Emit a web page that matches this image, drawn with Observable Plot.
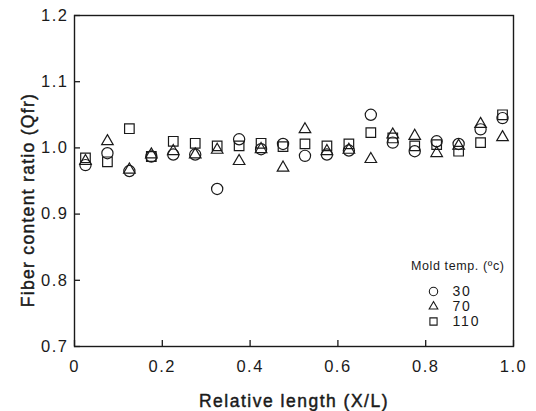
<!DOCTYPE html>
<html>
<head>
<meta charset="utf-8">
<script src="https://cdn.jsdelivr.net/npm/d3@7"></script>
<script src="https://cdn.jsdelivr.net/npm/@observablehq/plot@0.6"></script>
<style>
  html, body { margin: 0; padding: 0; background: #fff; }
  #chart svg { font-family: "Liberation Sans", Arial, Helvetica, sans-serif; }
  #chart svg g[aria-label="x-axis tick label"] text,
  #chart svg g[aria-label="y-axis tick label"] text { letter-spacing: 1.5px; }
  #chart svg .title-x text { letter-spacing: 1.5px; }
  #chart svg .title-y text { letter-spacing: 1.3px; }
  #chart svg .legend-title text { letter-spacing: 0.6px; }
  #chart svg .legend-label text { letter-spacing: 1.8px; }
</style>
</head>
<body>
<div id="chart"></div>
<script>
// Relative length positions (X/L)
const positions = [0.025, 0.075, 0.125, 0.175, 0.225, 0.275, 0.325, 0.375, 0.425, 0.475,
                   0.525, 0.575, 0.625, 0.675, 0.725, 0.775, 0.825, 0.875, 0.925, 0.975];
// Fiber content ratio per mold temperature
const temp30  = [0.974, 0.992, 0.965, 0.987, 0.990, 0.990, 0.938, 1.013, 0.998, 1.006,
                 0.988, 0.990, 0.996, 1.050, 1.008, 0.995, 1.010, 1.006, 1.028, 1.045];
const temp70  = [0.980, 1.010, 0.967, 0.990, 0.995, 0.990, 0.997, 0.980, 0.998, 0.970,
                 1.028, 0.995, 0.997, 0.983, 1.020, 1.018, 0.992, 1.003, 1.036, 1.016];
const temp110 = [0.985, 0.979, 1.029, 0.987, 1.010, 1.007, 1.003, 1.003, 1.007, 1.002,
                 1.006, 1.003, 1.006, 1.023, 1.015, 1.003, 1.005, 0.995, 1.008, 1.050];
const seriesNames = ["30", "70", "110"];
const xTicks = [0, 0.2, 0.4, 0.6, 0.8, 1.0];
const xTickLabels = ["0", "0.2", "0.4", "0.6", "0.8", "1.0"];
const yTicks = [0.7, 0.8, 0.9, 1.0, 1.1, 1.2];
const yTickLabels = ["0.7", "0.8", "0.9", "1.0", "1.1", "1.2"];
const legendTitle = "Mold temp. (ºc)";

const toRows = (vals) => positions.map((x, i) => ({x, y: vals[i]}));
const ink = "#1a1a1a";
const symbols = ["circle", "triangle", "square"];
const radii = [5.6, 4.3, 5.4];
const seriesData = [temp30, temp70, temp110];

const marks = [
  Plot.frame({stroke: ink, strokeWidth: 1.4}),
  Plot.axisX({ticks: xTicks, tickSize: -6, tickFormat: () => "", label: null, stroke: ink, strokeWidth: 1.3}),
  Plot.axisX({ticks: xTicks, tickSize: 0, tickPadding: 14, tickFormat: (d, i) => xTickLabels[i], label: null,
              fontSize: 16.5, fill: ink}),
  Plot.axisY({ticks: yTicks, tickSize: -6, tickFormat: () => "", label: null, stroke: ink, strokeWidth: 1.3}),
  Plot.axisY({ticks: yTicks, tickSize: 0, tickPadding: 6, tickFormat: (d, i) => yTickLabels[i], label: null,
              fontSize: 16.5, fill: ink}),
  Plot.text(["Relative length (X/L)"], {frameAnchor: "bottom", textAnchor: "middle", lineAnchor: "middle",
              dy: 55, fontSize: 17.5, fill: ink, stroke: ink, strokeWidth: 0.45, className: "title-x"}),
  Plot.text(["Fiber content ratio (Qfr)"], {frameAnchor: "left", textAnchor: "middle", lineAnchor: "middle",
              dx: -46, dy: 19, rotate: -90, fontSize: 17.5, fill: ink,
              stroke: ink, strokeWidth: 0.45, className: "title-y"}),
];

seriesData.forEach((vals, i) => {
  marks.push(Plot.dot(toRows(vals), {x: "x", y: "y", symbol: () => symbols[i], r: radii[i],
    stroke: ink, strokeWidth: 1.2, fill: "none"}));
});

// legend
marks.push(Plot.text([legendTitle], {frameAnchor: "bottom-right", dx: -9, dy: -81, textAnchor: "end",
  lineAnchor: "middle", fontSize: 12.5, fill: ink, className: "legend-title"}));
seriesNames.forEach((name, i) => {
  marks.push(Plot.dot([name], {frameAnchor: "bottom-right", dx: -80, dy: -55 + i * 15,
    symbol: () => symbols[i], r: radii[i] * 0.75, stroke: ink, strokeWidth: 1.1, fill: "none"}));
  marks.push(Plot.text([name], {frameAnchor: "bottom-right", dx: -61, dy: -55 + i * 15, textAnchor: "start",
    lineAnchor: "middle", text: d => d, fontSize: 14, fill: ink, className: "legend-label"}));
});

const chart = Plot.plot({
  width: 536,
  height: 411,
  marginLeft: 74,
  marginRight: 23,
  marginTop: 15,
  marginBottom: 65,
  style: {background: "#fff", color: ink},
  x: {domain: [0, 1]},
  y: {domain: [0.7, 1.2]},
  symbol: {type: "identity"},
  marks
});
document.getElementById("chart").appendChild(chart);
</script>
</body>
</html>
